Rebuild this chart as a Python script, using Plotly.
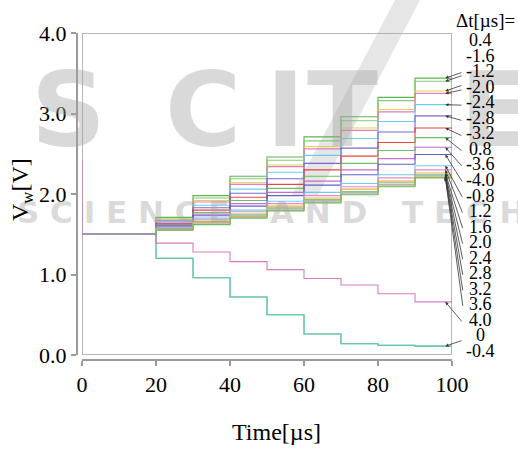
import plotly.graph_objects as go

# ---------------- data ----------------
step_times = [0, 20, 30, 40, 50, 60, 70, 80, 90, 100]
x_ticks = [0, 20, 40, 60, 80, 100]
y_ticks = [0.0, 1.0, 2.0, 3.0, 4.0]
y_tick_text = ["0.0", "1.0", "2.0", "3.0", "4.0"]
initial_level = 1.5
initial_spike = 2.42

upper_labels = ["0.4", "-1.6", "-1.2", "-2.0", "-2.4", "-2.8", "-3.2", "0.8", "-3.6",
                "-4.0", "-0.8", "1.2", "1.6", "2.0", "2.4", "2.8", "3.2", "3.6"]
upper_levels = [
    [1.71, 1.98, 2.22, 2.46, 2.71, 2.96, 3.20, 3.44],
    [1.69, 1.95, 2.19, 2.42, 2.66, 2.91, 3.16, 3.40],
    [1.68, 1.92, 2.14, 2.36, 2.59, 2.82, 3.05, 3.28],
    [1.67, 1.90, 2.12, 2.34, 2.56, 2.79, 3.02, 3.25],
    [1.66, 1.86, 2.06, 2.27, 2.48, 2.69, 2.90, 3.11],
    [1.64, 1.83, 2.01, 2.19, 2.38, 2.57, 2.77, 2.97],
    [1.63, 1.80, 1.96, 2.12, 2.30, 2.47, 2.64, 2.82],
    [1.62, 1.77, 1.92, 2.07, 2.22, 2.38, 2.54, 2.70],
    [1.61, 1.75, 1.88, 2.02, 2.16, 2.30, 2.44, 2.58],
    [1.60, 1.73, 1.85, 1.98, 2.11, 2.24, 2.37, 2.49],
    [1.59, 1.70, 1.80, 1.91, 2.02, 2.13, 2.24, 2.35],
    [1.58, 1.68, 1.78, 1.88, 1.98, 2.09, 2.20, 2.30],
    [1.57, 1.66, 1.75, 1.85, 1.95, 2.06, 2.16, 2.26],
    [1.57, 1.65, 1.74, 1.83, 1.93, 2.03, 2.14, 2.24],
    [1.56, 1.64, 1.73, 1.82, 1.92, 2.02, 2.12, 2.23],
    [1.56, 1.64, 1.72, 1.81, 1.91, 2.01, 2.11, 2.22],
    [1.55, 1.63, 1.71, 1.80, 1.90, 2.00, 2.10, 2.21],
    [1.55, 1.62, 1.70, 1.79, 1.89, 1.99, 2.09, 2.20],
]
upper_colors = ["#4caf3c", "#7cc46a", "#e0cc40", "#e070b8", "#5cc8f0", "#6a5acd",
                "#e83030", "#5cb85c", "#c060c0", "#5050c8", "#60c8f0", "#e080c0",
                "#f0a040", "#80c060", "#70d0e0", "#e090c0", "#d8d040", "#60b060"]

lower_labels = ["4.0", "0", "-0.4"]
pink_levels = [1.39, 1.28, 1.16, 1.06, 0.95, 0.87, 0.76, 0.66]
teal_levels = [1.20, 0.96, 0.72, 0.50, 0.26, 0.14, 0.12, 0.11]
lower_colors = ["#d070c0", "#50c8a8", "#60c0b0"]

header_text = "Δt[µs]="
x_title = "Time[µs]"
y_title = "V<sub>w</sub>[V]"

# ---------------- layout geometry ----------------
W, H = 518, 449
ML, MR, MT, MB = 77, 66, 33, 89
PW = W - ML - MR
PH = H - MT - MB
GAP = 5
SERIF = "Liberation Serif, Times New Roman, serif"


def px_x(px):
    return (px - ML) / PW


def px_y(py):
    return (H - MB - py) / PH


fig = go.Figure()

for levels, col in zip(upper_levels, upper_colors):
    fig.add_trace(go.Scatter(
        x=step_times, y=[initial_level] + levels + [levels[-1]],
        mode="lines", line=dict(color=col, width=1.1, shape="hv"),
        opacity=0.9, showlegend=False, hoverinfo="skip"))

# teal lines (0 and -0.4)
for col in lower_colors[1:]:
    fig.add_trace(go.Scatter(
        x=step_times, y=[initial_level] + teal_levels + [teal_levels[-1]],
        mode="lines", line=dict(color=col, width=1.1, shape="hv"),
        opacity=0.9, showlegend=False, hoverinfo="skip"))

# pink line (4.0) with initial spike at t=0
fig.add_trace(go.Scatter(
    x=[step_times[0]] + step_times, y=[initial_spike, initial_level] + pink_levels + [pink_levels[-1]],
    mode="lines", line=dict(color=lower_colors[0], width=1.1, shape="hv"),
    opacity=0.9, showlegend=False, hoverinfo="skip"))

axis_common = dict(showline=True, linecolor="#9a9a9a", linewidth=2,
                   ticks="outside", ticklen=5, tickwidth=1.5, tickcolor="#9a9a9a",
                   showgrid=False, zeroline=False,
                   tickfont=dict(family=SERIF, size=22, color="black"))

fig.update_layout(
    width=W, height=H,
    margin=dict(l=ML, r=MR, t=MT, b=MB, pad=0),
    paper_bgcolor="white", plot_bgcolor="white",
    xaxis=dict(domain=[GAP / PW, 1], range=[0, 100], anchor="free", position=0,
               tickvals=x_ticks, **axis_common),
    yaxis=dict(domain=[GAP / PH, 1], range=[0, 4], anchor="free", position=0,
               tickvals=y_ticks, ticktext=y_tick_text, **axis_common),
    showlegend=False,
)

# frame
fig.add_shape(type="rect", xref="x", yref="y", x0=0, x1=100, y0=0, y1=4,
              line=dict(color="#a0a0a0", width=1.5), layer="below")

# watermark diagonal band
fig.add_shape(type="path", xref="paper", yref="paper",
              path="M {} {} L {} {} L {} {} L {} {} Z".format(
                  px_x(395), px_y(0), px_x(420), px_y(0),
                  px_x(318), px_y(195), px_x(292), px_y(195)),
              fillcolor="rgba(200,200,200,0.45)", line=dict(width=0), layer="below")

annotations = []
# watermark letters
wm_color = "rgba(165,165,165,0.42)"
for letter, cx in zip(["S", "C", "I", "T", "E"], [68, 203, 285, 342, 495]):
    annotations.append(dict(text="<b>" + letter + "</b>", xref="paper", yref="paper",
                            x=px_x(cx), y=px_y(110), xanchor="center", yanchor="middle",
                            showarrow=False,
                            font=dict(family="DejaVu Sans", size=104, color=wm_color)))
for word, lx in zip(["S C I E N C E", "A N D", "T E C H N O L O G Y"], [15, 268, 400]):
    annotations.append(dict(text="<b>" + word + "</b>", xref="paper", yref="paper",
                            x=px_x(lx), y=px_y(212), xanchor="left", yanchor="middle",
                            showarrow=False,
                            font=dict(family="DejaVu Sans", size=31, color=wm_color)))

# header
annotations.append(dict(text=header_text, xref="paper", yref="paper",
                        x=px_x(485), y=px_y(20), xanchor="center", yanchor="middle",
                        showarrow=False, font=dict(family=SERIF, size=19, color="black")))

all_labels = upper_labels + lower_labels
all_ends = [lv[-1] for lv in upper_levels] + [pink_levels[-1], teal_levels[-1], teal_levels[-1]]
LABEL_Y0, LABEL_DY = 40, 15.55
head_x_data = 98.2
head_px = ML + GAP + head_x_data / 100 * (PW - GAP)
for i, (lab, endv) in enumerate(zip(all_labels, all_ends)):
    ly = LABEL_Y0 + i * LABEL_DY
    annotations.append(dict(text=lab, xref="paper", yref="paper",
                            x=px_x(481), y=px_y(ly), xanchor="center", yanchor="middle",
                            showarrow=False,
                            font=dict(family=SERIF, size=18, color="black")))
    head_py = MT + (4 - endv) / 4 * (PH - GAP)
    tail_py = max(ly + 3, head_py - 6)
    if lab == "-0.4":
        continue
    annotations.append(dict(text="", xref="x", yref="y", x=head_x_data, y=endv,
                            ax=463 - head_px, ay=tail_py - head_py,
                            showarrow=True, arrowhead=2, arrowsize=0.8,
                            arrowwidth=0.8, arrowcolor="#333333", standoff=0))

# axis titles
annotations.append(dict(text=x_title, xref="paper", yref="paper",
                        x=px_x(276), y=px_y(432), xanchor="center", yanchor="middle",
                        showarrow=False, font=dict(family=SERIF, size=24, color="black")))
annotations.append(dict(text=y_title, xref="paper", yref="paper",
                        x=px_x(22), y=px_y(190), xanchor="center", yanchor="middle",
                        textangle=-90, showarrow=False,
                        font=dict(family=SERIF, size=24, color="black")))

fig.update_layout(annotations=annotations)
fig.write_html("out.html", config={"displayModeBar": False},
               post_script="document.body.style.margin='0px';document.body.style.overflow='hidden';")
